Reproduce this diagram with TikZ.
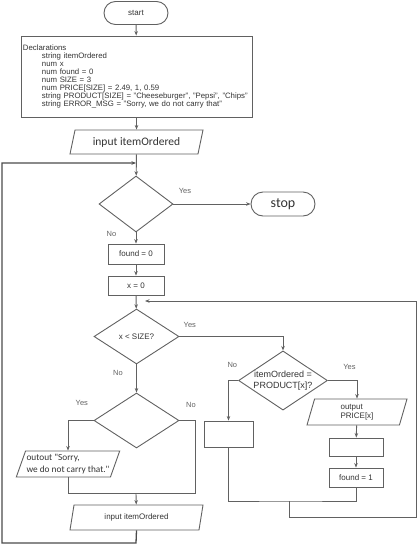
\documentclass[tikz,border=0pt]{standalone}
\usepackage{fontspec}
\setmainfont{Liberation Sans}
\newfontfamily\calfont{Carlito}
\usetikzlibrary{arrows.meta, positioning, shapes.geometric, shapes.misc}

\begin{document}
\begin{tikzpicture}[x=1pt, y=-1pt,
    line width=0.9pt, draw=black!62, text=black!80,
    every node/.style={font=\fontsize{8}{9}\selectfont},
    arr/.style={-{Stealth[length=4.5pt,width=3.5pt]}, black!62},
    ln/.style={black!62},
    term/.style={draw, rounded rectangle, minimum width=64pt, minimum height=23pt, inner sep=0pt},
    procbox/.style={draw, rectangle, inner sep=0pt},
    decision/.style={draw, diamond, aspect=1.5, inner sep=0pt},
    io/.style={draw, trapezium, trapezium left angle=67, trapezium right angle=113,
        trapezium stretches body=true, inner sep=1pt},
    lbl/.style={font=\fontsize{7.5}{9}\selectfont}]
    \useasboundingbox (0,0) rectangle (420,544);

    % top part
    \node[term] (start) at (136,13) {start};
    \node[procbox, text width=227pt, align=left, minimum height=81pt, inner sep=2pt,
        font=\fontsize{7.8}{7.9}\selectfont] (decl) at (136.5,76.5)
        {Declarations\\
        \hspace*{19pt}string itemOrdered\\
        \hspace*{19pt}num x\\
        \hspace*{19pt}num found = 0\\
        \hspace*{19pt}num SIZE = 3\\
        \hspace*{19pt}num PRICE[SIZE] = 2.49, 1, 0.59\\
        \hspace*{19pt}string PRODUCT[SIZE] = "Cheeseburger", "Pepsi", "Chips"\\
        \hspace*{19pt}string ERROR\_MSG = "Sorry, we do not carry that"};
    \node[io, minimum width=133pt, minimum height=24pt, font=\calfont\fontsize{11.5}{13}\selectfont]
        (input1) at (136.5,142) {input itemOrdered};
    \coordinate (join1) at (136,163);
    \node[decision, minimum width=74pt, minimum height=56pt] (dec1) at (136,204) {};
    \node[term, minimum height=24pt, font=\calfont\fontsize{14}{16}\selectfont] (stop) at (283,204) {stop};
    \node[procbox, minimum width=56pt, minimum height=20pt] (found0) at (136,254) {found = 0};
    \node[procbox, minimum width=56pt, minimum height=19pt] (x0) at (136,285.5) {x = 0};
    \coordinate (join2) at (145,301);

    % inner loop
    \node[decision, minimum width=85pt, minimum height=55pt] (dec2) at (136.5,336.5) {x < SIZE?};
    \node[decision, minimum width=84pt, minimum height=55pt, align=center,
        font=\fontsize{9}{11.5}\selectfont] (dec3) at (283,380.5) {itemOrdered =\\PRODUCT[x]?};
    \node[procbox, minimum width=49pt, minimum height=26pt] (emptyL) at (228.5,434) {};
    \node[io, minimum width=100pt, minimum height=26pt, align=left] (output) at (357,412) {output\\PRICE[x]};
    \node[procbox, minimum width=54pt, minimum height=18pt] (emptyR) at (356,447) {};
    \node[procbox, minimum width=54pt, minimum height=19pt] (found1) at (356,477.5) {found = 1};
    \coordinate (merge) at (289,501);

    % not found part
    \node[decision, minimum width=85pt, minimum height=55pt] (dec4) at (136.5,420.5) {};
    \node[io, minimum width=102pt, minimum height=26pt, align=left,
        font=\calfont\fontsize{9.3}{12}\selectfont] (outout) at (68,464)
        {outout "Sorry,\\we do not carry that."};
    \coordinate (join3) at (136,493);
    \node[io, minimum width=133pt, minimum height=25pt] (input2) at (136.5,517.5) {input itemOrdered};

    % connectors
    \draw[arr] (start) -- (decl);
    \draw[arr] (decl) -- (input1);
    \draw[arr] (input1) -- (dec1);
    \draw[arr] (dec1) -- (stop) node[lbl, pos=0.15, above=7pt] {Yes};
    \draw[arr] (dec1) -- (found0) node[lbl, pos=0.1, left=16pt] {No};
    \draw[arr] (found0) -- (x0);
    \draw[arr] (x0) -- (dec2);
    \draw[arr] (dec2.east) -| (dec3.north) node[lbl, pos=0.05, above=5pt] {Yes};
    \draw[arr] (dec2) -- (dec4) node[lbl, pos=0.3, left=10pt] {No};
    \draw[arr] (dec3.west) -| (emptyL.north) node[lbl, pos=0.3, above=9pt] {No};
    \draw[arr] (dec3.east) -| (output.north) node[lbl, pos=0.37, above=7pt] {Yes};
    \draw[arr] (output) -- (emptyR);
    \draw[arr] (emptyR) -- (found1);
    \draw[ln] (emptyL.south) |- (merge) -| (found1.south);
    \draw[arr] (merge) -- ++(0,16) -| (416,301) -- (join2);
    \draw[arr] (dec4.west) -| (outout.north) node[lbl, pos=0.23, above=11pt] {Yes};
    \draw[ln] (dec4.east) node[lbl, above right=9pt and 3pt] {No} -| (join3 -| 195,0) -- (join3);
    \draw[ln] (outout.south) |- (join3);
    \draw[arr] (join3) -- (input2);
    \draw[arr, line width=1.3pt, black!70] (input2.south) -- (136,543) -- (2,543) -- (2,163) -- (join1);
\end{tikzpicture}
\end{document}
